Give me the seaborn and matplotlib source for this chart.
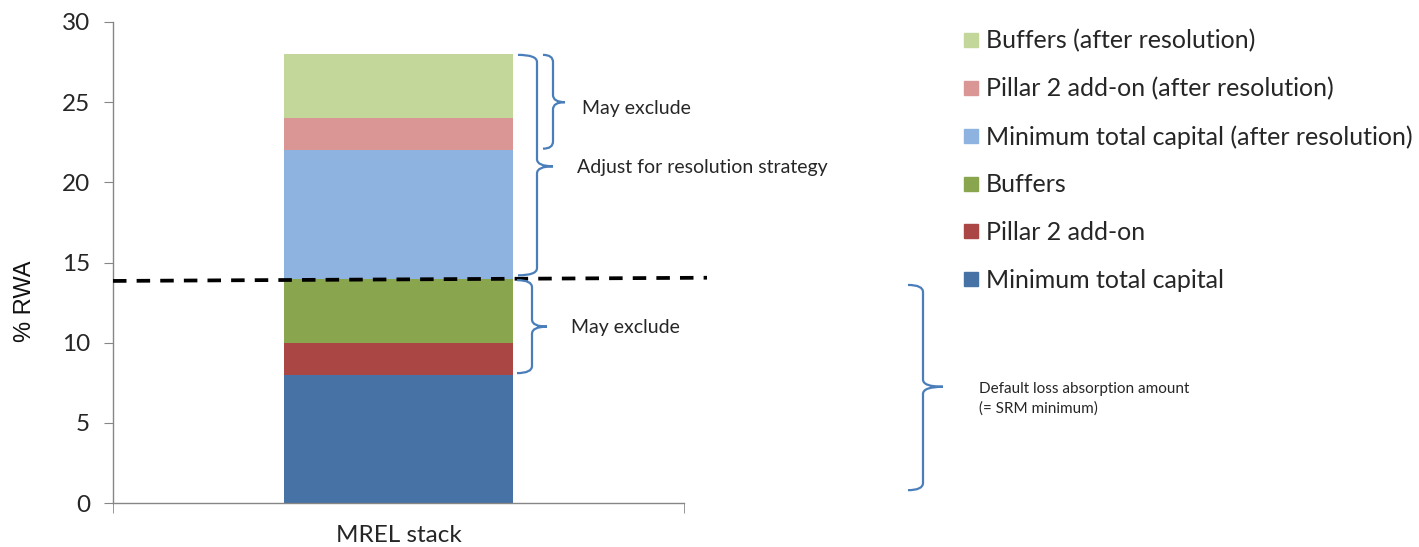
import matplotlib
matplotlib.use("Agg")
import matplotlib.pyplot as plt
from matplotlib.path import Path
from matplotlib.patches import PathPatch
from matplotlib.lines import Line2D
import seaborn as sns
import pandas as pd
import numpy as np

# Capital stack components (% of RWA), bottom to top
components = [
    "Minimum total capital",
    "Pillar 2 add-on",
    "Buffers",
    "Minimum total capital (after resolution)",
    "Pillar 2 add-on (after resolution)",
    "Buffers (after resolution)",
]
values = [8, 2, 4, 8, 2, 4]
colors = ["#4672A6", "#AA4644", "#89A54E", "#8EB3E1", "#DA9694", "#C4D79B"]
category = "MREL stack"

# Dashed threshold line (start, end level)
threshold = [13.85, 14.05]

# Brace spans: (bottom, top, tip level, label)
braces = [
    (14.2, 27.95, 21.0, "Adjust for resolution strategy"),
    (22.1, 27.95, 25.0, "May exclude"),
    (8.1, 13.9, 11.0, "May exclude"),
    (0.8, 13.6, 7.25, "Default loss absorption amount\n(= SRM minimum)"),
]

sns.set_style("white")
plt.rcParams["font.family"] = ["Lato", "DejaVu Sans"]

W, H = 1419, 547
X0, AXW = 113, 571
fig = plt.figure(figsize=(W / 100, H / 100), dpi=100)
ax = fig.add_axes([X0 / W, 44 / H, AXW / W, 481 / H])

cum = np.cumsum(values)
df = pd.DataFrame({"stack": [category] * len(values), "total": cum, "component": components})

# Layer cumulative totals from tallest to shortest to form the stack
for i in range(len(values) - 1, -1, -1):
    sns.barplot(data=df.iloc[[i]], x="stack", y="total", color=colors[i],
                width=0.4, saturation=1, ax=ax, linewidth=0, errorbar=None)

ax.set_xlim(-0.5, 0.5)
ax.set_ylim(0, 30)
ax.set_yticks(range(0, 31, 5))
ax.set_xlabel("")
ax.set_ylabel("% RWA", fontsize=17, family=["Liberation Sans", "DejaVu Sans"],
              color="#111111")
ax.yaxis.set_label_coords((25 - X0) / AXW, (503 - 301) / 481)
ax.yaxis.label.set_verticalalignment("center")
ax.yaxis.label.set_horizontalalignment("center")
ax.tick_params(axis="y", labelsize=17.5, length=6.5, color="#868686", direction="out",
               pad=10, left=True, labelcolor="#262626")
ax.tick_params(axis="x", labelsize=17.5, length=0, pad=16, labelcolor="#262626")
ax.set_xticks([-0.5, 0.5], minor=True)
ax.tick_params(axis="x", which="minor", length=7, color="#868686", direction="out", bottom=True)
for s in ["top", "right"]:
    ax.spines[s].set_visible(False)
for s in ["left", "bottom"]:
    ax.spines[s].set_color("#868686")
    ax.spines[s].set_linewidth(1.0)

tr = ax.get_yaxis_transform()


def fx(px):
    return (px - X0) / AXW


def fy(py):
    return (503 - py) / 481 * 30


# Dashed threshold across the stack
ax.plot([fx(X0), fx(707)], threshold, transform=tr, color="black", lw=2.7,
        linestyle=(0, (3.6, 2.7)), clip_on=False, zorder=5)

# Brace geometry in pixels: arm start, spine, tip, text x, text centre y, font size
brace_geom = [
    (518, 537, 553, 577, 167, 14),
    (543, 553, 565, 582, 108, 14),
    (517, 532, 547, 571, 328, 14),
    (908, 923, 943, 979, 399, 11),
]


def draw_brace(xs, xl, xt, yb, yt, ym, r=0.45):
    verts = [
        (fx(xs), yt), (fx(xl), yt), (fx(xl), yt - r),
        (fx(xl), ym + r), (fx(xl), ym), (fx(xt), ym),
        (fx(xl), ym), (fx(xl), ym - r),
        (fx(xl), yb + r), (fx(xl), yb), (fx(xs), yb),
    ]
    codes = [Path.MOVETO, Path.CURVE3, Path.CURVE3,
             Path.LINETO, Path.CURVE3, Path.CURVE3,
             Path.CURVE3, Path.CURVE3,
             Path.LINETO, Path.CURVE3, Path.CURVE3]
    patch = PathPatch(Path(verts, codes), transform=tr, fill=False,
                      edgecolor="#4A7EBB", lw=1.6, clip_on=False, zorder=6)
    ax.add_patch(patch)


for (yb, yt, ym, label), (xs, xl, xt, xtext, ytext, fs) in zip(braces, brace_geom):
    draw_brace(xs, xl, xt, yb, yt, ym)
    ax.text(fx(xtext), fy(ytext), label, transform=tr,
            fontsize=fs, color="#262626", va="center", ha="left", linespacing=1.5,
            clip_on=False)

# Legend, top entry is the top of the stack
handles = [Line2D([], [], marker="s", linestyle="none", markersize=10,
                  markerfacecolor=c, markeredgecolor=c) for c in colors[::-1]]
fig.legend(handles, components[::-1], loc="upper left",
           bbox_to_anchor=(963.5 / W, 1 - 29 / H), frameon=False, fontsize=18,
           handlelength=0.6, handletextpad=0.3, labelspacing=0.99,
           borderaxespad=0, borderpad=0, labelcolor="#262626")

fig.savefig("out.png", dpi=100)
